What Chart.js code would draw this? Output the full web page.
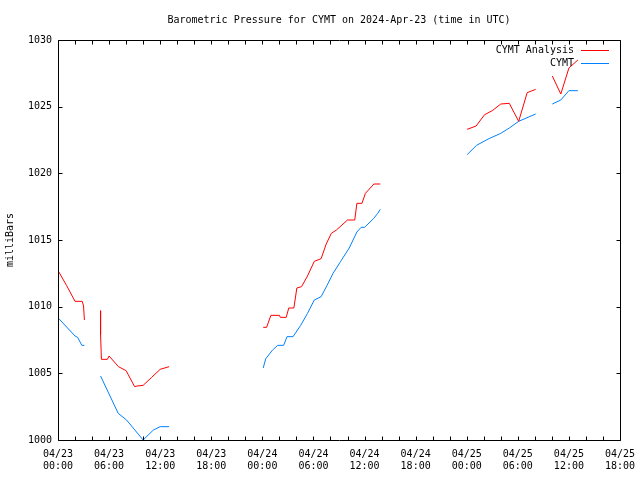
<!DOCTYPE html>
<html>
<head>
<meta charset="utf-8">
<script src="https://cdn.jsdelivr.net/npm/chart.js@4/dist/chart.umd.min.js"></script>
<style>
  html, body { margin: 0; padding: 0; background: #ffffff; }
  #c { display: block; }
</style>
</head>
<body>
<canvas id="c" width="640" height="480"></canvas>
<script>
// ---- Data (hours since 2024-04-23 00:00 UTC; null = gap) ----
const chartTitle = "Barometric Pressure for CYMT on 2024-Apr-23 (time in UTC)";
const yAxisTitle = "milliBars";
const seriesNames = ["CYMT Analysis", "CYMT"];
const tickDates = ["04/23", "04/24", "04/25"];

const hoursAnalysis = [
  0.1, 1.0, 2.0, 2.85, 3.0, 3.1, 4.0,
  5.0, 5.0, 5.1, 5.8, 6.0, 7.1, 8.0, 9.0, 9.3, 10.0, 11.0, 12.0, 13.05, 18.0,
  24.1, 24.5, 25.0, 26.0, 26.1, 26.8, 27.1, 27.7, 28.05, 28.6, 29.3, 30.1, 30.9, 31.5, 32.1, 32.7, 34.0, 34.85, 35.1, 35.7, 36.1, 37.1, 37.85, 42.0,
  48.05, 49.1, 50.1, 51.0, 52.0, 53.0, 54.1, 55.1, 56.1, 57.0,
  58.05, 59.05, 60.0, 61.05
];
const valuesAnalysis = [
  1012.6, 1011.6, 1010.4, 1010.4, 1010.05, 1009.0, null,
  1009.7, 1007.9, 1006.05, 1006.05, 1006.3, 1005.5, 1005.2, 1004.0, 1004.05, 1004.1, 1004.7, 1005.3, 1005.5, null,
  1008.45, 1008.45, 1009.35, 1009.35, 1009.2, 1009.2, 1009.9, 1009.9, 1011.4, 1011.5, 1012.3, 1013.4, 1013.6, 1014.7, 1015.5, 1015.75, 1016.5, 1016.5, 1017.75, 1017.75, 1018.5, 1019.2, 1019.2, null,
  1023.3, 1023.55, 1024.4, 1024.7, 1025.2, 1025.25, 1023.9, 1026.05, 1026.3, null,
  1027.3, 1025.95, 1027.9, 1028.5
];

const hoursStation = [
  0.1, 2.0, 2.3, 2.8, 3.1, 4.0,
  5.0, 7.07, 8.05, 10.0, 11.2, 12.0, 13.05, 18.0,
  24.1, 24.4, 25.2, 25.8, 26.5, 26.9, 27.6, 28.5, 29.3, 30.1, 30.9, 31.6, 32.3, 33.2, 34.2, 35.1, 35.6, 36.0, 37.05, 37.55, 37.85, 42.0,
  48.05, 49.15, 50.6, 52.0, 53.0, 54.1, 56.1, 57.0,
  58.05, 59.05, 60.0, 61.05
];
const valuesStation = [
  1009.1, 1007.8, 1007.7, 1007.1, 1007.1, null,
  1004.8, 1002.0, 1001.5, 1000.0, 1000.75, 1001.0, 1001.0, null,
  1005.4, 1006.1, 1006.75, 1007.1, 1007.1, 1007.75, 1007.75, 1008.6, 1009.5, 1010.5, 1010.75, 1011.6, 1012.5, 1013.4, 1014.4, 1015.6, 1015.95, 1015.95, 1016.6, 1017.0, 1017.3, null,
  1021.4, 1022.1, 1022.6, 1023.0, 1023.4, 1023.9, 1024.45, null,
  1025.2, 1025.5, 1026.2, 1026.2
];

const seriesColors = ["#ff0000", "#0080ff"];

function toPoints(xs, ys) {
  return xs.map((x, i) => ({ x: x, y: ys[i] }));
}

const FONT = { family: "'DejaVu Sans Mono', 'Liberation Mono', monospace", size: 10, lineHeight: 1.2, weight: 'normal' };

// Frame, inward ticks and legend in gnuplot style
const gnuplotFrame = {
  id: 'gnuplotFrame',
  afterDraw(chart) {
    const ctx = chart.ctx;
    const a = chart.chartArea;
    const xs = chart.scales.x, ys = chart.scales.y;
    const L = Math.round(a.left) + 0.5, R = Math.round(a.right) + 0.5;
    const T = Math.round(a.top) + 0.5, B = Math.round(a.bottom) + 0.5;
    ctx.save();
    ctx.strokeStyle = '#000';
    ctx.lineWidth = 1;
    ctx.beginPath();
    ctx.rect(L, T, R - L, B - T);
    const tl = 4;
    xs.ticks.forEach(t => {
      const p = Math.round(xs.getPixelForValue(t.value)) + 0.5;
      ctx.moveTo(p, B); ctx.lineTo(p, B - tl);
      ctx.moveTo(p, T); ctx.lineTo(p, T + tl);
    });
    ys.ticks.forEach(t => {
      const p = Math.round(ys.getPixelForValue(t.value)) + 0.5;
      ctx.moveTo(L, p); ctx.lineTo(L + tl, p);
      ctx.moveTo(R, p); ctx.lineTo(R - tl, p);
    });
    ctx.stroke();

    // legend (top right inside plot)
    ctx.font = FONT.size + "px " + FONT.family;
    ctx.textAlign = 'right';
    ctx.textBaseline = 'middle';
    chart.data.datasets.forEach((ds, i) => {
      const y = Math.round(a.top + 10 + i * 12.7) + 0.5;
      ctx.fillStyle = '#000';
      ctx.fillText(ds.label, a.right - 46, y);
      ctx.strokeStyle = ds.borderColor;
      ctx.beginPath();
      ctx.moveTo(a.right - 39, y);
      ctx.lineTo(a.right - 11, y);
      ctx.stroke();
    });
    ctx.restore();
  }
};

new Chart(document.getElementById('c'), {
  type: 'line',
  data: {
    datasets: [
      { label: seriesNames[0], data: toPoints(hoursAnalysis, valuesAnalysis), borderColor: seriesColors[0], backgroundColor: seriesColors[0], borderWidth: 1, pointRadius: 0, tension: 0, spanGaps: false, fill: false },
      { label: seriesNames[1], data: toPoints(hoursStation, valuesStation), borderColor: seriesColors[1], backgroundColor: seriesColors[1], borderWidth: 1, pointRadius: 0, tension: 0, spanGaps: false, fill: false }
    ]
  },
  options: {
    responsive: false,
    animation: false,
    devicePixelRatio: 1,
    layout: { padding: { left: 0, right: 20, top: 0, bottom: 0 } },
    plugins: {
      legend: { display: false },
      tooltip: { enabled: false },
      title: {
        display: true,
        text: chartTitle,
        color: '#000',
        font: FONT,
        fullSize: false,
        padding: { top: 14, bottom: 14 }
      }
    },
    scales: {
      x: {
        type: 'linear',
        min: 0,
        max: 66,
        grid: { display: false, drawTicks: false },
        border: { display: false },
        afterFit(s) { s.height = 40; s.paddingLeft = 0; s.paddingRight = 0; },
        ticks: {
          stepSize: 2,
          autoSkip: false,
          maxRotation: 0,
          minRotation: 0,
          padding: 8,
          color: '#000',
          font: FONT,
          callback(v) {
            if (v % 6 !== 0) return '';
            const day = Math.floor(v / 24);
            const hh = String(v % 24).padStart(2, '0');
            return [tickDates[day] || "04/25", hh + ":00"];
          }
        }
      },
      y: {
        min: 1000,
        max: 1030,
        grid: { display: false, drawTicks: false },
        border: { display: false },
        afterFit(s) { s.width = 58; s.paddingTop = 0; s.paddingBottom = 0; },
        ticks: { stepSize: 5, padding: 6, color: '#000', font: FONT, callback: v => String(v) },
        title: { display: true, text: yAxisTitle, color: '#000', font: FONT, padding: { top: 4, bottom: 0 } }
      }
    }
  },
  plugins: [gnuplotFrame]
});
</script>
</body>
</html>
